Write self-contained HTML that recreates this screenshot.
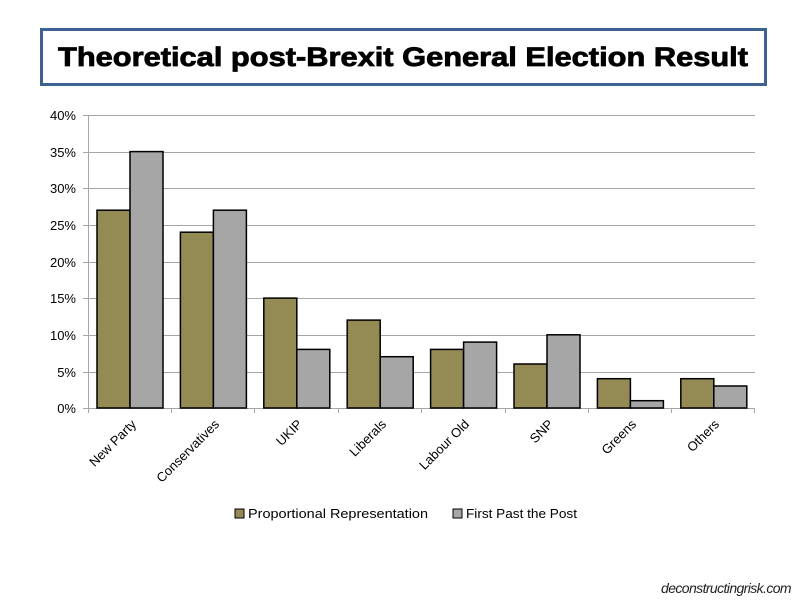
<!DOCTYPE html>
<html><head><meta charset="utf-8"><style>
body{margin:0;background:#fff;width:800px;height:600px;overflow:hidden;font-family:"Liberation Sans",sans-serif}
</style></head><body>
<svg width="800" height="600" xmlns="http://www.w3.org/2000/svg" font-family="Liberation Sans, sans-serif">
<rect x="41.5" y="29.5" width="724" height="55" fill="#fff" stroke="#3d6190" stroke-width="3"/>
<text x="58" y="66" font-size="27" font-weight="bold" stroke="#000" stroke-width="0.8" textLength="690" lengthAdjust="spacingAndGlyphs">Theoretical post-Brexit General Election Result</text>
<g stroke="#a6a6a6" stroke-width="1">
<line x1="88" y1="115.5" x2="755" y2="115.5"/>
<line x1="88" y1="152.5" x2="755" y2="152.5"/>
<line x1="88" y1="188.5" x2="755" y2="188.5"/>
<line x1="88" y1="225.5" x2="755" y2="225.5"/>
<line x1="88" y1="262.5" x2="755" y2="262.5"/>
<line x1="88" y1="298.5" x2="755" y2="298.5"/>
<line x1="88" y1="335.5" x2="755" y2="335.5"/>
<line x1="88" y1="372.5" x2="755" y2="372.5"/>
<line x1="88" y1="408.5" x2="755" y2="408.5"/>
<line x1="88.5" y1="115" x2="88.5" y2="413"/>
<line x1="83" y1="115.5" x2="88" y2="115.5"/><line x1="83" y1="152.5" x2="88" y2="152.5"/><line x1="83" y1="188.5" x2="88" y2="188.5"/><line x1="83" y1="225.5" x2="88" y2="225.5"/><line x1="83" y1="262.5" x2="88" y2="262.5"/><line x1="83" y1="298.5" x2="88" y2="298.5"/><line x1="83" y1="335.5" x2="88" y2="335.5"/><line x1="83" y1="372.5" x2="88" y2="372.5"/><line x1="83" y1="408.5" x2="88" y2="408.5"/>
<line x1="171.5" y1="408" x2="171.5" y2="413"/><line x1="254.5" y1="408" x2="254.5" y2="413"/><line x1="338.5" y1="408" x2="338.5" y2="413"/><line x1="421.5" y1="408" x2="421.5" y2="413"/><line x1="505.5" y1="408" x2="505.5" y2="413"/><line x1="588.5" y1="408" x2="588.5" y2="413"/><line x1="671.5" y1="408" x2="671.5" y2="413"/><line x1="754.5" y1="408" x2="754.5" y2="413"/>
</g>
<g font-size="13" fill="#000" text-anchor="end">
<text x="76" y="120">40%</text><text x="76" y="157">35%</text><text x="76" y="193">30%</text><text x="76" y="230">25%</text><text x="76" y="267">20%</text><text x="76" y="303">15%</text><text x="76" y="340">10%</text><text x="76" y="377">5%</text><text x="76" y="413">0%</text>
</g>
<g stroke="#000" stroke-width="1.5">
<rect x="97" y="210.2" width="33" height="197.8" fill="#948a54"/><rect x="130" y="151.6" width="33" height="256.4" fill="#a6a6a6"/>
<rect x="180.4" y="232.2" width="33" height="175.8" fill="#948a54"/><rect x="213.4" y="210.2" width="33" height="197.8" fill="#a6a6a6"/>
<rect x="263.8" y="298.1" width="33" height="109.9" fill="#948a54"/><rect x="296.8" y="349.4" width="33" height="58.6" fill="#a6a6a6"/>
<rect x="347.2" y="320.1" width="33" height="87.9" fill="#948a54"/><rect x="380.2" y="356.7" width="33" height="51.3" fill="#a6a6a6"/>
<rect x="430.6" y="349.4" width="33" height="58.6" fill="#948a54"/><rect x="463.6" y="342.1" width="33" height="65.9" fill="#a6a6a6"/>
<rect x="514" y="364" width="33" height="44" fill="#948a54"/><rect x="547" y="334.8" width="33" height="73.2" fill="#a6a6a6"/>
<rect x="597.4" y="378.7" width="33" height="29.3" fill="#948a54"/><rect x="630.4" y="400.7" width="33" height="7.3" fill="#a6a6a6"/>
<rect x="680.8" y="378.7" width="33" height="29.3" fill="#948a54"/><rect x="713.8" y="386" width="33" height="22" fill="#a6a6a6"/>
</g>
<g font-size="13" fill="#000" text-anchor="end">
<text transform="translate(137,425) rotate(-45)">New Party</text>
<text transform="translate(220,425) rotate(-45)">Conservatives</text>
<text transform="translate(303,425) rotate(-45)">UKIP</text>
<text transform="translate(387,425) rotate(-45)">Liberals</text>
<text transform="translate(470,425) rotate(-45)">Labour Old</text>
<text transform="translate(554,425) rotate(-45)">SNP</text>
<text transform="translate(637,425) rotate(-45)">Greens</text>
<text transform="translate(720,425) rotate(-45)">Others</text>
</g>
<rect x="235" y="509" width="9" height="9" fill="#948a54" stroke="#000"/>
<text x="248" y="518" font-size="13" textLength="180" lengthAdjust="spacingAndGlyphs">Proportional Representation</text>
<rect x="453" y="509" width="9" height="9" fill="#a6a6a6" stroke="#000"/>
<text x="466" y="518" font-size="13" textLength="111" lengthAdjust="spacingAndGlyphs">First Past the Post</text>
<text x="791" y="593" font-size="14" font-style="italic" text-anchor="end" fill="#222" letter-spacing="-0.6">deconstructingrisk.com</text>
</svg>
</body></html>
